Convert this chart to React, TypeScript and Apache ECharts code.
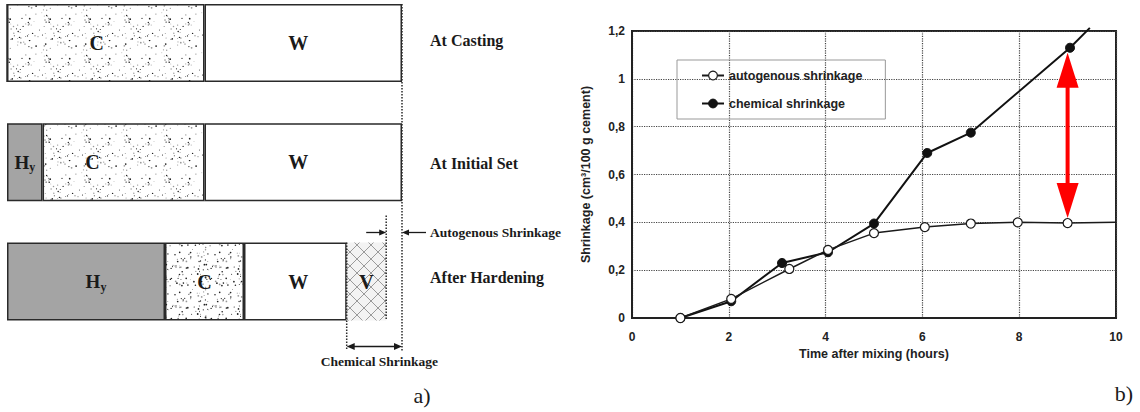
import React, { useEffect, useRef } from 'react';
import * as echarts from 'echarts';

// ---------- Panel a): paste composition (relative volume, 100 = paste at casting) ----------
const stages = ['At Casting', 'At Initial Set', 'After Hardening'];
const hydrates = [0, 9, 40];
const cement = [50, 41, 20];
const water = [50, 50, 26];
const voids = [0, 0, 10];
const castingVolume = 100;

// ---------- Panel b): shrinkage vs time ----------
const autoHours = [1, 2.05, 3.25, 4.05, 5, 6.05, 7, 7.97, 9, 10];
const autoShrink = [0, 0.08, 0.205, 0.285, 0.355, 0.38, 0.395, 0.4, 0.397, 0.4];
const chemHours = [1, 2.05, 3.1, 4.05, 5, 6.1, 7, 9.05, 9.46];
const chemShrink = [0, 0.07, 0.23, 0.275, 0.395, 0.69, 0.775, 1.13, 1.213];
const xTickLabels = ['0', '2', '4', '6', '8', '10'];
const yTickLabels = ['0', '0,2', '0,4', '0,6', '0,8', '1', '1,2'];
const seriesNames = ['autogenous shrinkage', 'chemical shrinkage'];

// label shifts (style only)
const hyLabelShift = [[0, 0], [0, 0], [10, 0]];
const cLabelShift = [[-9, 0], [-31, 0], [0, 0]];
const wLabelShift = [[-5, 0], [-5, 0], [3, 0]];
const stagePadding = [[0, 0, 6, 0], [2, 0, 0, 0], [0, 0, 8, 0]];

const SANS = '"Liberation Sans", Arial, sans-serif';
const SERIF = '"Liberation Serif", "Times New Roman", serif';

// texture tiles (deterministic)
function stippleTile(size: number, count: number, seed: number) {
  let s = seed;
  const next = () => {
    s = (s * 48271) % 2147483647;
    return s / 2147483647;
  };
  let dots = '';
  for (let i = 0; i < count; i++) {
    const x = (next() * size).toFixed(1);
    const y = (next() * size).toFixed(1);
    const r = (0.4 + next() * 0.5).toFixed(2);
    const shade = next() < 0.5 ? '#222222' : '#999999';
    dots += `<circle cx="${x}" cy="${y}" r="${r}" fill="${shade}"/>`;
  }
  const svg = `<svg xmlns="http://www.w3.org/2000/svg" width="${size}" height="${size}"><rect width="${size}" height="${size}" fill="#ffffff"/>${dots}</svg>`;
  return {
    image: 'data:image/svg+xml;charset=utf-8,' + encodeURIComponent(svg),
    repeat: 'repeat',
    imageWidth: size,
    imageHeight: size,
  };
}
function hatchTile(size: number) {
  const svg = `<svg xmlns="http://www.w3.org/2000/svg" width="${size}" height="${size}"><rect width="${size}" height="${size}" fill="#f3f3f3"/><path d="M0 0L${size} ${size}M${size} 0L0 ${size}" stroke="#9a9a9a" stroke-width="1"/></svg>`;
  return {
    image: 'data:image/svg+xml;charset=utf-8,' + encodeURIComponent(svg),
    repeat: 'repeat',
    imageWidth: size,
    imageHeight: size,
  };
}

export default function App() {
  const ref = useRef<HTMLDivElement>(null);

  useEffect(() => {
    document.body.style.margin = '0';
    const chart = echarts.init(ref.current!, null, { renderer: 'svg' });

    const stipple = stippleTile(40, 62, 12345);
    const stippleDense = stippleTile(40, 85, 777);
    const hatch = hatchTile(14);
    const segLabelBase = {
      show: true,
      position: 'inside',
      fontFamily: SERIF,
      fontWeight: 'bold',
      fontSize: 20,
      color: '#1a1a1a',
    };
    const barBorder = { borderColor: '#2a2a2a', borderWidth: 1.5 };
    const axisTextStyle = { fontFamily: SANS, fontWeight: 'bold', fontSize: 12, color: '#222' };
    const nameStyle = { fontFamily: SANS, fontWeight: 'bold', fontSize: 12.5, color: '#222' };
    const lastAuto = autoHours.length - 1;
    const lastChem = chemHours.length - 1;
    const ink = '#1a1a1a';
    const stageFont = { fontFamily: SERIF, fontWeight: 'bold', fontSize: 16, color: '#1a1a1a' };
    const stageRich: any = {};
    stages.forEach((_, i) => {
      stageRich['s' + i] = { ...stageFont, padding: stagePadding[i] };
    });

    const option: any = {
      animation: false,
      backgroundColor: '#ffffff',
      grid: [
        { left: 632, right: 24, top: 31, bottom: 94, show: true, borderColor: '#222', borderWidth: 2, backgroundColor: 'transparent' },
        { left: 7, right: 738, top: 43, bottom: 130.5, show: false },
      ],
      legend: {
        left: 677,
        top: 60,
        orient: 'vertical',
        data: [
          { name: seriesNames[0], itemStyle: { color: '#ffffff', borderColor: ink, borderWidth: 1.2 } },
          { name: seriesNames[1], itemStyle: { color: '#111111', borderColor: '#111111', borderWidth: 1 } },
        ],
        itemWidth: 22,
        itemHeight: 11,
        itemGap: 15,
        padding: [9, 23, 9, 24],
        borderColor: '#999',
        borderWidth: 1,
        textStyle: nameStyle,
        selectedMode: false,
      },
      xAxis: [
        {
          gridIndex: 0,
          type: 'value',
          min: 0,
          max: 10,
          interval: 2,
          axisLine: { show: true, onZero: false, lineStyle: { color: '#222', width: 2 } },
          axisTick: { show: false },
          axisLabel: { ...axisTextStyle, margin: 13, formatter: (v: number) => xTickLabels[Math.round(v / 2)] },
          splitLine: { show: true, lineStyle: { color: '#444', type: 'dotted', width: 1.2 } },
          name: 'Time after mixing (hours)',
          nameLocation: 'middle',
          nameGap: 29,
          nameTextStyle: nameStyle,
        },
        { gridIndex: 1, type: 'value', min: 0, max: castingVolume, show: false },
      ],
      yAxis: [
        {
          gridIndex: 0,
          type: 'value',
          min: 0,
          max: 1.2,
          interval: 0.2,
          axisLine: { show: true, onZero: false, lineStyle: { color: '#222', width: 2 } },
          axisTick: { show: false },
          axisLabel: { ...axisTextStyle, margin: 7, formatter: (v: number) => yTickLabels[Math.round(v / 0.2)] },
          splitLine: { show: true, lineStyle: { color: '#444', type: 'dotted', width: 1.2 } },
          name: 'Shrinkage (cm³/100 g cement)',
          nameLocation: 'middle',
          nameRotate: 90,
          nameGap: 40,
          nameTextStyle: nameStyle,
        },
        {
          gridIndex: 1,
          type: 'category',
          data: stages,
          inverse: true,
          boundaryGap: false,
          position: 'right',
          axisLine: { show: false },
          axisTick: { show: false },
          splitLine: { show: false },
          axisLabel: {
            interval: 0,
            margin: 28,
            align: 'left',
            ...stageFont,
            formatter: (v: string, i: number) => `{s${i}|${v}}`,
            rich: stageRich,
          },
        },
      ],
      series: [
        {
          name: seriesNames[0],
          type: 'line',
          xAxisIndex: 0,
          yAxisIndex: 0,
          symbol: 'circle',
          data: autoHours.map((h, i) => ({ value: [h, autoShrink[i]], symbol: i === lastAuto ? 'none' : 'circle' })),
          symbolSize: 9,
          lineStyle: { color: ink, width: 1.5 },
          itemStyle: { color: '#ffffff', borderColor: ink, borderWidth: 1.2 },
          z: 4,
          clip: false,
          silent: true,
        },
        {
          name: seriesNames[1],
          type: 'line',
          xAxisIndex: 0,
          yAxisIndex: 0,
          symbol: 'circle',
          data: chemHours.map((h, i) => ({ value: [h, chemShrink[i]], symbol: i === lastChem ? 'none' : 'circle' })),
          symbolSize: 9,
          lineStyle: { color: '#111', width: 2 },
          itemStyle: { color: '#111', borderColor: '#111', borderWidth: 1 },
          z: 3,
          clip: false,
          silent: true,
        },
        {
          name: 'Hy',
          type: 'bar',
          xAxisIndex: 1,
          yAxisIndex: 1,
          stack: 'paste',
          barWidth: 78,
          clip: false,
          silent: true,
          data: hydrates.map((v, i) => ({ value: v, label: { offset: hyLabelShift[i] } })),
          itemStyle: { color: '#a4a4a4', ...barBorder },
          label: {
            ...segLabelBase,
            formatter: (p: any) => (p.value ? '{h|H}{s|y}' : ''),
            rich: {
              h: { fontFamily: SERIF, fontWeight: 'bold', fontSize: 19, color: '#1a1a1a', lineHeight: 22 },
              s: { fontFamily: SERIF, fontWeight: 'bold', fontSize: 12, color: '#1a1a1a', lineHeight: 12, verticalAlign: 'bottom', padding: [6, 0, 0, 0] },
            },
          },
        },
        {
          name: 'C',
          type: 'bar',
          xAxisIndex: 1,
          yAxisIndex: 1,
          stack: 'paste',
          barWidth: 78,
          clip: false,
          silent: true,
          data: cement.map((v, i) => ({
            value: v,
            label: { offset: cLabelShift[i] },
            itemStyle: { color: i === 2 ? stippleDense : stipple },
          })),
          itemStyle: { color: stipple, ...barBorder },
          label: { ...segLabelBase, formatter: (p: any) => (p.value ? 'C' : '') },
        },
        {
          name: 'W',
          type: 'bar',
          xAxisIndex: 1,
          yAxisIndex: 1,
          stack: 'paste',
          barWidth: 78,
          clip: false,
          silent: true,
          data: water.map((v, i) => ({ value: v, label: { offset: wLabelShift[i] } })),
          itemStyle: { color: '#ffffff', ...barBorder },
          label: { ...segLabelBase, formatter: (p: any) => (p.value ? 'W' : '') },
        },
        {
          name: 'V',
          type: 'bar',
          xAxisIndex: 1,
          yAxisIndex: 1,
          stack: 'paste',
          barWidth: 78,
          clip: false,
          silent: true,
          data: voids,
          itemStyle: { color: hatch, borderWidth: 0 },
          label: { ...segLabelBase, formatter: (p: any) => (p.value ? 'V' : '') },
        },
      ],
    };

    chart.setOption(option);

    // ---------- annotations positioned through the axes ----------
    const L = (x: number, cat: number) => chart.convertToPixel({ gridIndex: 1 }, [x, cat]) as number[];
    const R = (x: number, y: number) => chart.convertToPixel({ gridIndex: 0 }, [x, y]) as number[];
    const half = 39;
    const total3 = hydrates[2] + cement[2] + water[2] + voids[2];
    const solid3 = total3 - voids[2];
    const [xEnd, y0] = L(castingVolume, 0);
    const [xV, y3] = L(total3, 2);
    const [xS] = L(solid3, 2);
    const b3Top = y3 - half;
    const b3Bot = y3 + half;
    const dotted = { stroke: '#2a2a2a', lineWidth: 1.5, lineDash: [1.5, 1.5] };
    const els: any[] = [];
    const line = (x1: number, y1: number, x2: number, y2: number, style: any) =>
      els.push({ type: 'line', z: 100, shape: { x1, y1, x2, y2 }, style });
    const head = (tx: number, ty: number, dir: string, len: number, hw: number, fill: string) => {
      let pts: number[][] = [];
      if (dir === 'r') pts = [[tx, ty], [tx - len, ty - hw], [tx - len, ty + hw]];
      if (dir === 'l') pts = [[tx, ty], [tx + len, ty - hw], [tx + len, ty + hw]];
      if (dir === 'u') pts = [[tx, ty], [tx - hw, ty + len], [tx + hw, ty + len]];
      if (dir === 'd') pts = [[tx, ty], [tx - hw, ty - len], [tx + hw, ty - len]];
      els.push({ type: 'polygon', z: 101, shape: { points: pts }, style: { fill } });
    };
    const text = (x: number, y: number, t: string, font: string, align: string) =>
      els.push({
        type: 'text',
        z: 102,
        x,
        y,
        style: { text: t, font, fill: ink, textAlign: align, align, textVerticalAlign: 'middle', verticalAlign: 'middle' },
      });

    // dotted guide lines
    line(xEnd, y0 - half, xEnd, b3Bot + 30, dotted);
    line(xV, b3Top - 27, xV, b3Bot, dotted);
    line(xS, b3Top, xS, b3Bot + 30, dotted);

    // autogenous shrinkage arrows
    const ya = b3Top - 10;
    line(xV - 20, ya, xV - 6, ya, { stroke: ink, lineWidth: 1.3 });
    head(xV, ya, 'r', 7, 3, ink);
    line(xEnd + 24, ya, xEnd + 6, ya, { stroke: ink, lineWidth: 1.3 });
    head(xEnd, ya, 'l', 7, 3, ink);
    text(xEnd + 28, ya, 'Autogenous Shrinkage', `bold 13.5px ${SERIF}`, 'left');

    // chemical shrinkage arrow
    const yc = b3Bot + 26;
    line(xS + 6, yc, xEnd - 6, yc, { stroke: ink, lineWidth: 1.6 });
    head(xS, yc, 'l', 8, 3.5, ink);
    head(xEnd, yc, 'r', 8, 3.5, ink);
    text((xS + xEnd) / 2 + 5, yc + 15, 'Chemical Shrinkage', `bold 13.5px ${SERIF}`, 'center');

    // red double arrow between the two curves at the last measurement
    const [axTop, yChem] = R(autoHours[lastAuto - 1], chemShrink[lastChem - 1]);
    const [, yAuto] = R(autoHours[lastAuto - 1], autoShrink[lastAuto - 1]);
    const tipTop = yChem + 5;
    const tipBot = yAuto - 5;
    line(axTop, tipTop + 30, axTop, tipBot - 30, { stroke: '#ff0000', lineWidth: 4 });
    head(axTop, tipTop, 'u', 35, 11, '#ff0000');
    head(axTop, tipBot, 'd', 35, 11, '#ff0000');

    // panel tags
    text(422, 395, 'a)', `22px ${SERIF}`, 'center');
    text(1124, 393, 'b)', `22px ${SERIF}`, 'center');

    chart.setOption({ graphic: els });

    return () => chart.dispose();
  }, []);

  return <div ref={ref} style={{ width: 1140, height: 412 }} />;
}
